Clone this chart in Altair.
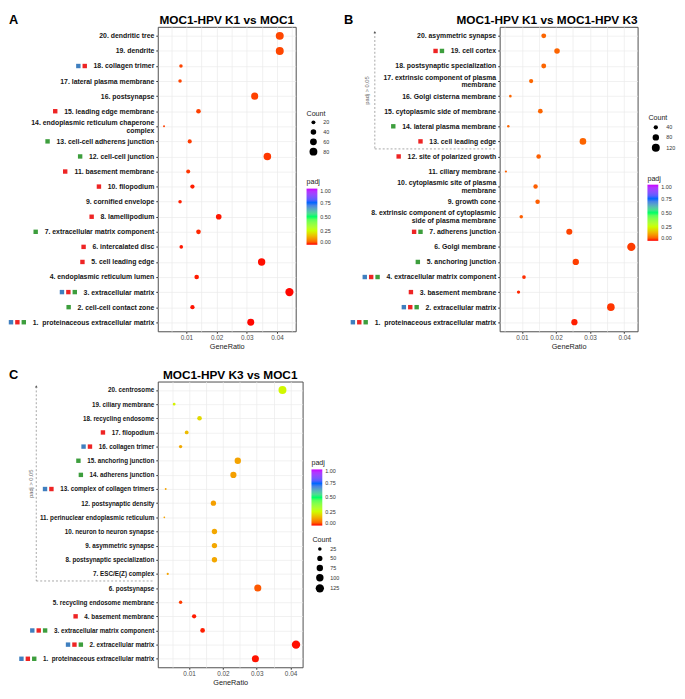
import json
import altair as alt
import pandas as pd

# ---------------- data (rows listed from 20 at top to 1 at bottom) ----------------
A_terms = ["20. dendritic tree", "19. dendrite", "18. collagen trimer", "17. lateral plasma membrane",
           "16. postsynapse", "15. leading edge membrane", "14. endoplasmic reticulum chaperone|complex",
           "13. cell-cell adherens junction", "12. cell-cell junction", "11. basement membrane",
           "10. filopodium", "9. cornified envelope", "8. lamellipodium", "7. extracellular matrix component",
           "6. intercalated disc", "5. cell leading edge", "4. endoplasmic reticulum lumen",
           "3. extracellular matrix", "2. cell-cell contact zone", "1.\u00a0 proteinaceous extracellular matrix"]
A_ratio = [0.0409, 0.0409, 0.0082, 0.0079, 0.0326, 0.0140, 0.0026, 0.0111, 0.0368, 0.0106,
           0.0120, 0.0079, 0.0207, 0.0140, 0.0083, 0.0349, 0.0134, 0.0441, 0.0120, 0.0313]
A_count = [82, 82, 16, 16, 65, 28, 5, 22, 74, 21, 24, 16, 41, 28, 17, 70, 27, 88, 24, 63]
A_padj = [0.026, 0.026, 0.025, 0.025, 0.023, 0.022, 0.022, 0.019, 0.017, 0.016,
          0.006, 0.006, 0.004, 0.009, 0.004, 0.002, 0.005, 0.001, 0.003, 0.001]
A_sets = ["", "", "BR", "", "", "R", "", "G", "G", "R", "R", "", "R", "G", "R", "R", "", "BRG", "G", "BRG"]

B_terms = ["20. asymmetric synapse", "19. cell cortex", "18. postsynaptic specialization",
           "17. extrinsic component of plasma|membrane", "16. Golgi cisterna membrane",
           "15. cytoplasmic side of membrane", "14. lateral plasma membrane", "13. cell leading edge",
           "12. site of polarized growth", "11. ciliary membrane", "10. cytoplasmic site of plasma|membrane",
           "9. growth cone", "8. extrinsic component of cytoplasmic|side of plasma membrane",
           "7. adherens junction", "6. Golgi membrane", "5. anchoring junction",
           "4. extracellular matrix component", "3. basement membrane", "2. extracellular matrix",
           "1.\u00a0 proteinaceous extracellular matrix"]
B_ratio = [0.0164, 0.0203, 0.0164, 0.0127, 0.0066, 0.0154, 0.0060, 0.0279, 0.0149, 0.0053,
           0.0140, 0.0146, 0.0098, 0.0239, 0.0421, 0.0258, 0.0106, 0.0090, 0.0361, 0.0254]
B_count = [50, 62, 50, 39, 20, 47, 18, 85, 45, 16, 43, 44, 30, 73, 128, 78, 32, 27, 110, 77]
B_padj = [0.052, 0.051, 0.052, 0.053, 0.053, 0.052, 0.053, 0.051, 0.046, 0.047,
          0.046, 0.045, 0.046, 0.024, 0.020, 0.021, 0.012, 0.009, 0.016, 0.006]
B_sets = ["", "RG", "", "", "", "", "G", "R", "R", "", "", "", "", "RG", "", "G", "BRG", "R", "BRG", "BRG"]
B_nonsig = [13, 20]

C_terms = ["20. centrosome", "19. ciliary membrane", "18. recycling endosome", "17. filopodium",
           "16. collagen trimer", "15. anchoring junction", "14. adherens junction",
           "13. complex of collagen trimers", "12. postsynaptic density",
           "11. perinuclear endoplasmic reticulum", "10. neuron to neuron synapse",
           "9. asymmetric synapse", "8. postsynaptic specialization", "7. ESC/E(Z) complex",
           "6. postsynapse", "5. recycling endosome membrane", "4. basement membrane",
           "3. extracellular matrix component", "2. extracellular matrix",
           "1.\u00a0 proteinaceous extracellular matrix"]
C_ratio = [0.0376, 0.0056, 0.0131, 0.0093, 0.0075, 0.0244, 0.0231, 0.0031, 0.0172, 0.0027,
           0.0175, 0.0175, 0.0175, 0.0037, 0.0303, 0.0075, 0.0115, 0.0140, 0.0416, 0.0296]
C_count = [114, 17, 40, 28, 23, 74, 70, 9, 52, 8, 53, 53, 53, 11, 92, 23, 35, 42, 126, 90]
C_padj = [0.240, 0.232, 0.195, 0.155, 0.130, 0.122, 0.118, 0.122, 0.118, 0.122,
          0.128, 0.128, 0.128, 0.122, 0.040, 0.020, 0.005, 0.006, 0.002, 0.003]
C_sets = ["", "", "", "R", "BR", "G", "G", "BR", "", "", "", "", "", "", "", "", "R", "BRG", "BRG", "BRG"]
C_nonsig = [7, 20]

A_count_ticks = [20, 40, 60, 80]
B_count_ticks = [40, 80, 120]
C_count_ticks = [25, 50, 75, 100, 125]
padj_ticks = [0, 0.25, 0.5, 0.75, 1]

# ---------------- styling ----------------
FONT = "Liberation Sans"
SET_COLORS = {"B": "#3F7FBF", "R": "#EE2424", "G": "#3D9E3D"}
PADJ_COLORS = ["#FF0000", "#CCFF00", "#00FF66", "#0066FF", "#CC00FF"]

# Helvetica/Arial Bold advance widths (1/1000 em) used to place the coloured squares
HB = {' ': 278, '\u00a0': 278, '.': 278, '-': 333, '/': 278, '(': 333, ')': 333,
      'a': 556, 'b': 611, 'c': 556, 'd': 611, 'e': 556, 'f': 333, 'g': 611, 'h': 611, 'i': 278,
      'j': 278, 'k': 556, 'l': 278, 'm': 889, 'n': 611, 'o': 611, 'p': 611, 'q': 611, 'r': 389,
      's': 556, 't': 333, 'u': 611, 'v': 556, 'w': 778, 'x': 556, 'y': 556, 'z': 500,
      'E': 667, 'S': 667, 'C': 722, 'Z': 611, 'G': 778}
for d in "0123456789":
    HB[d] = 556

LINE_H = 7.6


def text_w(s, fs):
    return max(sum(HB.get(c, 556) for c in line) for line in s.split("|")) * fs / 1000.0


def panel(terms, ratio, count, padj, sets, count_ticks, nonsig, title, letter, geo):
    n = len(terms)
    fs = geo["lab_fs"]
    idx = [n - i for i in range(n)]
    df = pd.DataFrame({"idx": idx, "term": terms, "ratio": ratio, "count": count, "padj": padj})

    lo = min(ratio) - 0.05 * (max(ratio) - min(ratio))
    hi = max(ratio) + 0.05 * (max(ratio) - min(ratio))
    xvals = [round(0.005 * k, 3) for k in range(1, 10) if lo < 0.005 * k < hi]
    major = "abs(datum.value*100 - round(datum.value*100)) < 0.001"

    arr = [""] * (n + 1)
    for i, t in zip(idx, terms):
        arr[i] = t
    y_label_expr = "split(" + json.dumps(arr, ensure_ascii=False) + "[datum.value], '|')"
    multi = [i for i, t in zip(idx, terms) if "|" in t]
    if multi:
        lab_off = {"condition": {"test": "indexof(" + json.dumps(multi) + ", datum.value) >= 0",
                                 "value": -LINE_H / 2}, "value": 0}
    else:
        lab_off = 0

    yscale = alt.Scale(domain=[0.4, n + 0.6], nice=False, zero=False)

    xaxis = alt.Axis(values=xvals, tickCount=40, title="GeneRatio", grid=True, gridColor="#EBEBEB",
                     gridWidth=0.7, domain=False, tickSize=2, tickColor="#333333",
                     tickOpacity={"condition": {"test": major, "value": 1}, "value": 0},
                     labelExpr=major + " ? format(datum.value, '.2f') : ''",
                     labelFont=FONT, labelFontSize=6.5, labelColor="#4D4D4D", labelPadding=1.5,
                     labelOverlap=False, labelFlush=False,
                     titleFont=FONT, titleFontSize=7.4, titleFontWeight="normal", titleColor="#1A1A1A",
                     titlePadding=1.5)
    yaxis = alt.Axis(values=list(range(1, n + 1)), tickCount=40, title=None, grid=True,
                     gridColor="#EBEBEB", gridWidth=0.7, domain=False, tickSize=2, tickColor="#333333",
                     labelExpr=y_label_expr, labelFont=FONT, labelFontSize=fs,
                     labelFontWeight="bold", labelColor="#141414", labelPadding=2,
                     labelLineHeight=LINE_H, labelOffset=lab_off,
                     labelOverlap=False, labelFlush=False, labelLimit=400)

    clegend = alt.Legend(title="padj", orient="none", legendX=geo["col_leg"][0], legendY=geo["col_leg"][1],
                         type="gradient", direction="vertical", gradientLength=57, gradientThickness=11,
                         gradientStrokeWidth=0, values=padj_ticks, format=".2f",
                         labelFont=FONT, labelFontSize=5.5, labelColor="#333333", labelOffset=3,
                         titleFont=FONT, titleFontSize=7.2, titleFontWeight="normal", titleColor="#1A1A1A",
                         titlePadding=3, padding=0)
    slegend = alt.Legend(title="Count", orient="none", legendX=geo["size_leg"][0], legendY=geo["size_leg"][1],
                         values=count_ticks, symbolType="circle", symbolFillColor="black",
                         symbolStrokeWidth=0, symbolOpacity=1, rowPadding=geo["row_pad"],
                         symbolOffset=3, labelFont=FONT, labelFontSize=5.5, labelColor="#333333",
                         labelOffset=6,
                         titleFont=FONT, titleFontSize=7.2, titleFontWeight="normal", titleColor="#1A1A1A",
                         titlePadding=3, padding=0)

    pts = alt.Chart(df).mark_circle(opacity=1).encode(
        x=alt.X("ratio:Q", scale=alt.Scale(domain=[lo, hi], nice=False, zero=False), axis=xaxis),
        y=alt.Y("idx:Q", scale=yscale, axis=yaxis),
        color=alt.Color("padj:Q", scale=alt.Scale(domain=padj_ticks, range=PADJ_COLORS, interpolate="lab"),
                        legend=clegend),
        size=alt.Size("count:Q", scale=alt.Scale(domain=[min(count), max(count)], range=list(geo["size_range"]),
                                                 zero=False, nice=False), legend=slegend),
    )

    # coloured squares just left of each label
    rows = []
    for i, t, s in zip(idx, terms, sets):
        if not s:
            continue
        w = text_w(t, fs)
        for j, code in enumerate(reversed(s)):
            rows.append({"idx": i, "set": code, "sx": -(4 + w + 6 + 2.25 + 6.5 * j)})
    sqdf = pd.DataFrame(rows)
    sq = alt.Chart(sqdf).mark_square(size=20, opacity=1).encode(
        x=alt.X("sx:Q", scale=None, axis=None),
        y=alt.Y("idx:Q", scale=yscale, title=None),
        fill=alt.Fill("set:N", scale=alt.Scale(domain=list(SET_COLORS), range=list(SET_COLORS.values())),
                      legend=None),
    )

    layers = [pts, sq]

    if nonsig:
        b = geo["bracket"]
        top = nonsig[1] + 0.25
        bot = nonsig[0] - 0.5
        brdf = pd.DataFrame({"top": [top], "bot": [bot], "ty": [(top + bot) / 2], "lab": ["padj > 0.05"]})
        dash = dict(strokeDash=[2, 2], color="#808080", strokeWidth=0.7)
        layers += [
            alt.Chart(brdf).mark_rule(**dash).encode(
                x=alt.value(b["x"]), y=alt.Y("top:Q", scale=yscale, title=None), y2="bot:Q"),
            alt.Chart(brdf).mark_rule(**dash).encode(
                x=alt.value(b["x"]), x2=alt.value(b["x2"]), y=alt.Y("bot:Q", scale=yscale, title=None)),
            alt.Chart(brdf).mark_point(shape="triangle-up", filled=True, size=7, color="#555555",
                                       opacity=1).encode(
                x=alt.value(b["x"]), y=alt.Y("top:Q", scale=yscale, title=None)),
            alt.Chart(brdf).mark_text(angle=270, font=FONT, fontSize=5.8, color="#666666",
                                      align="center", baseline="middle").encode(
                x=alt.value(b["tx"]), y=alt.Y("ty:Q", scale=yscale, title=None), text="lab:N"),
        ]

    layers.append(
        alt.Chart(pd.DataFrame({"t": [title]})).mark_text(
            font=FONT, fontSize=12, fontWeight="bold", color="black", align=geo["title_align"],
            baseline="alphabetic").encode(text="t:N", x=alt.value(geo["title_x"]), y=alt.value(-3)))
    layers.append(
        alt.Chart(pd.DataFrame({"t": [letter]})).mark_text(
            font=FONT, fontSize=13, fontWeight="bold", color="black", align="left",
            baseline="alphabetic").encode(text="t:N", x=alt.value(geo["letter_x"]), y=alt.value(-3)))

    return alt.layer(*layers).properties(width=geo["w"], height=geo["h"])


GEO_A = dict(w=140, h=309, lab_fs=7.0, letter_x=-151, title_x=70, title_align="center",
             size_leg=(151, 84), col_leg=(151, 154), size_range=(4, 70), row_pad=2.5)
GEO_B = dict(w=140, h=309, lab_fs=7.0, letter_x=-158, title_x=140, title_align="right",
             size_leg=(151, 89), col_leg=(150, 150), size_range=(5, 70), row_pad=2.5,
             bracket=dict(x=-126.7, x2=-3, tx=-134.3))
GEO_C = dict(w=147, h=290, lab_fs=6.4, letter_x=-151, title_x=73.5, title_align="center",
             size_leg=(157, 157), col_leg=(156, 79), size_range=(3, 72), row_pad=2.3,
             bracket=dict(x=-123.3, x2=-4, tx=-129))

pA = panel(A_terms, A_ratio, A_count, A_padj, A_sets, A_count_ticks, None, "MOC1-HPV K1 vs MOC1", "A", GEO_A)
pB = panel(B_terms, B_ratio, B_count, B_padj, B_sets, B_count_ticks, B_nonsig,
           "MOC1-HPV K1 vs MOC1-HPV K3", "B", GEO_B)
pC = panel(C_terms, C_ratio, C_count, C_padj, C_sets, C_count_ticks, C_nonsig,
           "MOC1-HPV K3 vs MOC1", "C", GEO_C)

chart = alt.concat(pA, pB, pC, columns=2, spacing={"row": 51, "column": 200}, bounds="flush", align="all") \
    .resolve_scale(x="independent", y="independent", color="independent", size="independent",
                   fill="independent") \
    .resolve_legend(color="independent", size="independent") \
    .properties(padding=0) \
    .configure(font=FONT) \
    .configure_view(stroke="#4D4D4D", strokeWidth=1)

chart.save("out.html", embed_options={"renderer": "svg", "actions": False})
